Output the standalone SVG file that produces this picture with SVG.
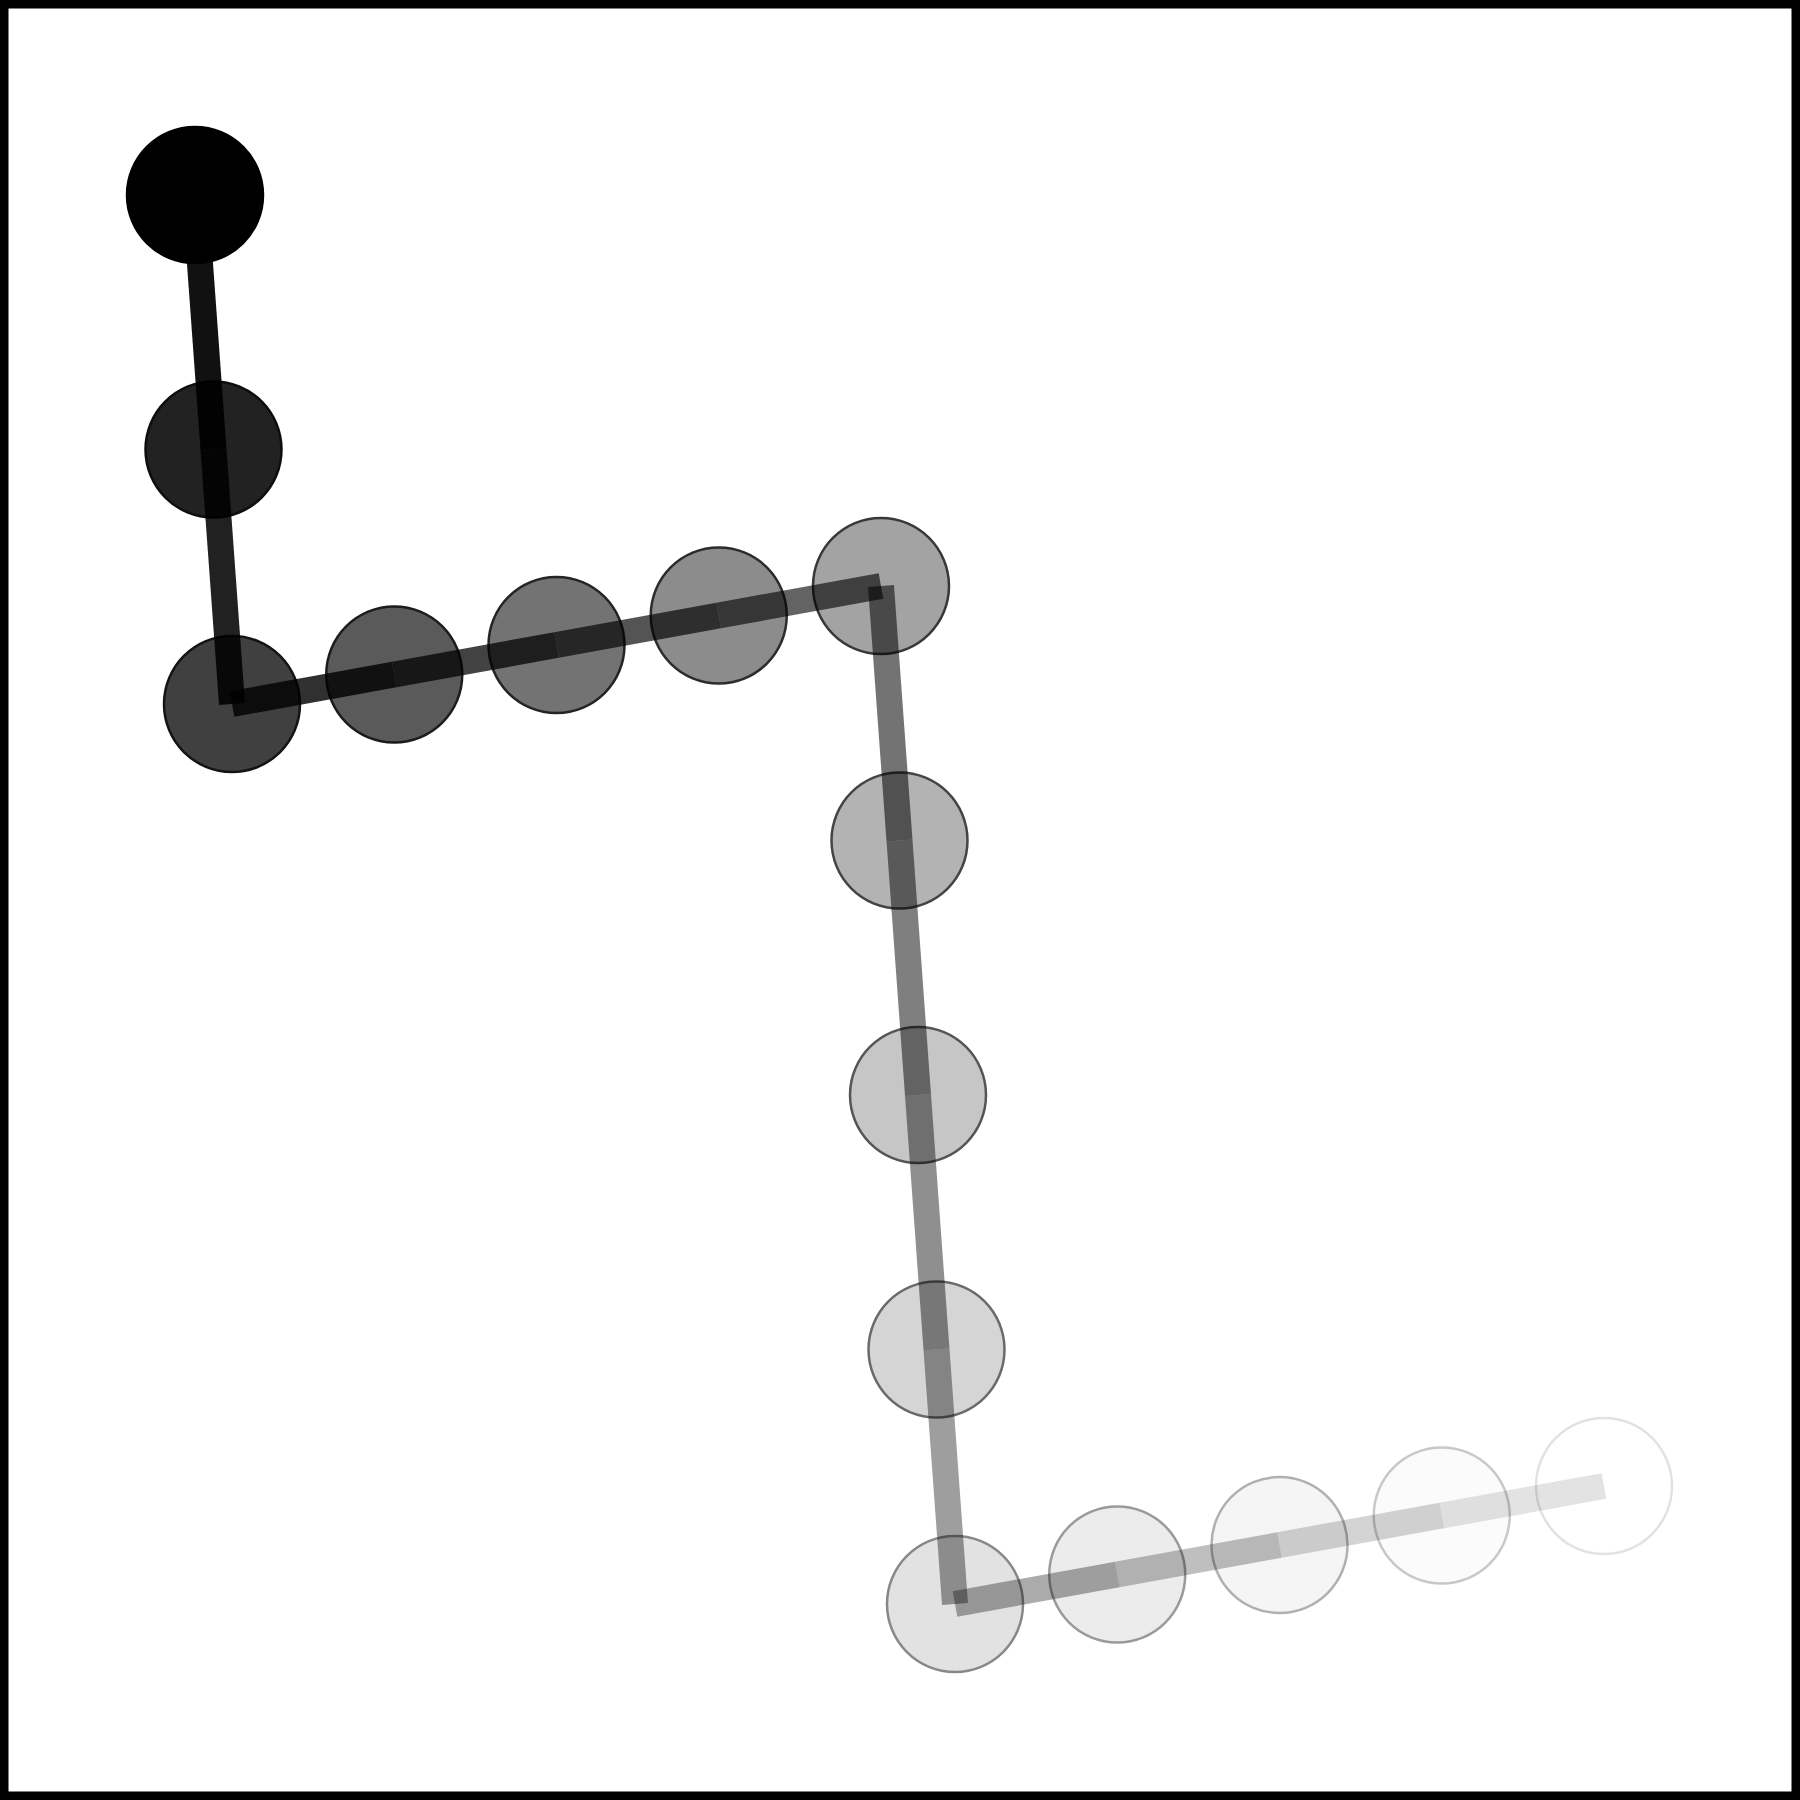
<svg xmlns="http://www.w3.org/2000/svg" xmlns:xlink="http://www.w3.org/1999/xlink" width="1800" height="1800" viewBox="0 0 1800 1800">
<defs>
<path id="c" d="M68,0C68,8.93 66.241,17.772 62.8238,26.0225C59.406,34.273 54.398,41.769 48.0833,48.0833C41.769,54.398 34.273,59.406 26.0225,62.8238C17.772,66.241 8.93,68 0,68C-8.93,68 -17.772,66.241 -26.0225,62.8238C-34.273,59.406 -41.769,54.398 -48.0833,48.0833C-54.398,41.769 -59.406,34.273 -62.8238,26.0225C-66.241,17.772 -68,8.93 -68,0C-68,-8.93 -66.241,-17.772 -62.8238,-26.0225C-59.406,-34.273 -54.398,-41.769 -48.0833,-48.0833C-41.769,-54.398 -34.273,-59.406 -26.0225,-62.8238C-17.772,-66.241 -8.93,-68 0,-68C8.93,-68 17.772,-66.241 26.0225,-62.8238C34.273,-59.406 41.769,-54.398 48.0833,-48.0833C54.398,-41.769 59.406,-34.273 62.8238,-26.0225C66.241,-17.772 68,-8.93 68,0Z"/>
</defs>
<style>
.n{stroke-width:2.5}
.e{stroke:#000;stroke-width:26;stroke-linecap:butt;fill:none}
</style>
<rect x="0" y="0" width="1800" height="1800" fill="#fff"/>
<rect x="4.25" y="4.25" width="1791.5" height="1791.5" fill="none" stroke="#000" stroke-width="8.5"/>
<g id="nodes">
<g id="n1" transform="translate(195,195)"><use class="n" href="#c" xlink:href="#c" fill="#000" stroke="#000"/></g>
<g id="n2" transform="translate(213.5,449.5)"><use class="n" href="#c" xlink:href="#c" fill="#222" stroke="#0e0e0e"/></g>
<g id="n3" transform="translate(232,704)"><use class="n" href="#c" xlink:href="#c" fill="#404040" stroke="#141414"/></g>
<g id="n4" transform="translate(394.25,674.5)"><use class="n" href="#c" xlink:href="#c" fill="#5a5a5a" stroke="#1c1c1c"/></g>
<g id="n5" transform="translate(556.5,645)"><use class="n" href="#c" xlink:href="#c" fill="#737373" stroke="#242424"/></g>
<g id="n6" transform="translate(718.75,615.5)"><use class="n" href="#c" xlink:href="#c" fill="#8c8c8c" stroke="#2c2c2c"/></g>
<g id="n7" transform="translate(881,586)"><use class="n" href="#c" xlink:href="#c" fill="#a3a3a3" stroke="#383838"/></g>
<g id="n8" transform="translate(899.5,840.5)"><use class="n" href="#c" xlink:href="#c" fill="#b3b3b3" stroke="#444"/></g>
<g id="n9" transform="translate(918,1095)"><use class="n" href="#c" xlink:href="#c" fill="#c6c6c6" stroke="#555"/></g>
<g id="n10" transform="translate(936.5,1349.5)"><use class="n" href="#c" xlink:href="#c" fill="#d5d5d5" stroke="#6a6a6a"/></g>
<g id="n11" transform="translate(955,1604)"><use class="n" href="#c" xlink:href="#c" fill="#e2e2e2" stroke="#888"/></g>
<g id="n12" transform="translate(1117.25,1574.5)"><use class="n" href="#c" xlink:href="#c" fill="#ececec" stroke="#9a9a9a"/></g>
<g id="n13" transform="translate(1279.5,1545)"><use class="n" href="#c" xlink:href="#c" fill="#f5f5f5" stroke="#b0b0b0"/></g>
<g id="n14" transform="translate(1441.75,1515.5)"><use class="n" href="#c" xlink:href="#c" fill="#fbfbfb" stroke="#c8c8c8"/></g>
<g id="n15" transform="translate(1604,1486)"><use class="n" href="#c" xlink:href="#c" fill="#fff" stroke="#e2e2e2"/></g>
</g>
<g id="connectors">
<line class="e" x1="195" y1="195" x2="213.5" y2="449.5" stroke-opacity="0.933"/>
<line class="e" x1="213.5" y1="449.5" x2="232" y2="704" stroke-opacity="0.87"/>
<line class="e" x1="232" y1="704" x2="394.25" y2="674.5" stroke-opacity="0.81"/>
<line class="e" x1="394.25" y1="674.5" x2="556.5" y2="645" stroke-opacity="0.74"/>
<line class="e" x1="556.5" y1="645" x2="718.75" y2="615.5" stroke-opacity="0.67"/>
<line class="e" x1="718.75" y1="615.5" x2="881" y2="586" stroke-opacity="0.61"/>
<line class="e" x1="881" y1="586" x2="899.5" y2="840.5" stroke-opacity="0.55"/>
<line class="e" x1="899.5" y1="840.5" x2="918" y2="1095" stroke-opacity="0.5"/>
<line class="e" x1="918" y1="1095" x2="936.5" y2="1349.5" stroke-opacity="0.44"/>
<line class="e" x1="936.5" y1="1349.5" x2="955" y2="1604" stroke-opacity="0.38"/>
<line class="e" x1="955" y1="1604" x2="1117.25" y2="1574.5" stroke-opacity="0.33"/>
<line class="e" x1="1117.25" y1="1574.5" x2="1279.5" y2="1545" stroke-opacity="0.25"/>
<line class="e" x1="1279.5" y1="1545" x2="1441.75" y2="1515.5" stroke-opacity="0.17"/>
<line class="e" x1="1441.75" y1="1515.5" x2="1604" y2="1486" stroke-opacity="0.11"/>
</g>
</svg>
